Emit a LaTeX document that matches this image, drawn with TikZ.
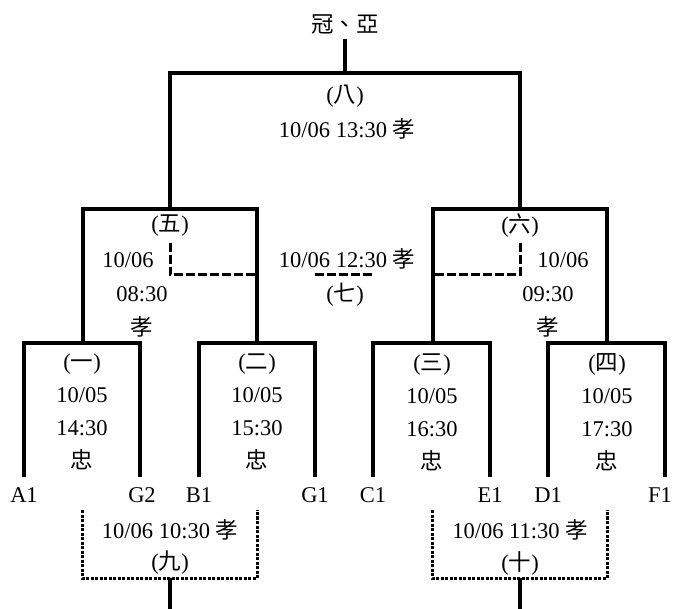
\documentclass[tikz,border=0pt]{standalone}
\usepackage{fontspec}
\setmainfont{Liberation Serif}
\newfontfamily\cjk{Noto Sans CJK TC}
\usetikzlibrary{positioning}
\newcommand{\zh}[1]{{\cjk #1}}
\newcommand{\gamefont}{\fontsize{22.5}{33}\selectfont}

\begin{document}
\begin{tikzpicture}[x=1pt,y=-1pt,
    every node/.style={font=\gamefont,inner sep=0pt},
    game/.style={align=center},
    main line/.style={line width=3.5pt},
    third line/.style={line width=3pt,dash pattern=on 9pt off 3pt},
    dot line/.style={line width=3pt,dash pattern=on 3pt off 1.5pt}]
    \useasboundingbox (0,0) rectangle (675,609);

    % Define games
    \node (final) at (345,25) {\zh{冠、亞}};
    \node (g8) at (345,96) {(\zh{八})};
    \node (t8) at (347,129) {10/06 13:30 \zh{孝}};

    \node (g5) at (170,226) {(\zh{五})};
    \node (d5) at (128,260) {10/06};
    \node (h5) at (142,294) {08:30};
    \node (p5) at (142,327) {\zh{孝}};
    \node (g6) at (520,226) {(\zh{六})};
    \node (d6) at (563,260) {10/06};
    \node (h6) at (548,294) {09:30};
    \node (p6) at (548,327) {\zh{孝}};
    \node (t7) at (347,259) {10/06 12:30 \zh{孝}};
    \node (g7) at (345,295) {(\zh{七})};

    \node[game] (g1) at (82,412) {(\zh{一})\\10/05\\14:30\\\zh{忠}};
    \node[game] (g2) at (257,412) {(\zh{二})\\10/05\\15:30\\\zh{忠}};
    \node[game] (g3) at (432,412) {(\zh{三})\\10/05\\16:30\\\zh{忠}};
    \node[game] (g4) at (607,412) {(\zh{四})\\10/05\\17:30\\\zh{忠}};

    \node (t9) at (170,530) {10/06 10:30 \zh{孝}};
    \node (g9) at (170,563) {(\zh{九})};
    \node (t10) at (520,530) {10/06 11:30 \zh{孝}};
    \node (g10) at (520,563) {(\zh{十})};

    % Define teams
    \node (A1) at (24,495) {A1};
    \node (G2) at (142,495) {G2};
    \node (B1) at (199,495) {B1};
    \node (G1) at (315,495) {G1};
    \node (C1) at (373,495) {C1};
    \node (E1) at (490,495) {E1};
    \node (D1) at (548,495) {D1};
    \node (F1) at (660,495) {F1};

    % Bracket points
    \coordinate (a1) at (24,477);
    \coordinate (g2) at (140,477);
    \coordinate (b1) at (199,477);
    \coordinate (g1) at (315,477);
    \coordinate (c1) at (373,477);
    \coordinate (e1) at (490,477);
    \coordinate (d1) at (548,477);
    \coordinate (f1) at (665,477);
    \coordinate (m1) at (83,343);
    \coordinate (m2) at (257,343);
    \coordinate (m3) at (433,343);
    \coordinate (m4) at (607,343);
    \coordinate (m5) at (170,209);
    \coordinate (m6) at (520,209);
    \coordinate (m8) at (345,73);
    \coordinate (l5) at (170,243);
    \coordinate (k5) at (257,275);
    \coordinate (l6) at (520,243);
    \coordinate (k6) at (433,275);
    \coordinate (k7a) at (315,275);
    \coordinate (k7b) at (373,275);
    \coordinate (q1) at (82,510);
    \coordinate (q2) at (257,510);
    \coordinate (n9) at (170,578);
    \coordinate (s9) at (170,609);
    \coordinate (q3) at (432,510);
    \coordinate (q4) at (607,510);
    \coordinate (n10) at (520,578);
    \coordinate (s10) at (520,609);

    % Draw brackets
    \draw[main line] (a1) |- (m1) -| (g2);
    \draw[main line] (b1) |- (m2) -| (g1);
    \draw[main line] (c1) |- (m3) -| (e1);
    \draw[main line] (d1) |- (m4) -| (f1);
    \draw[main line] (m1) |- (m5) -| (m2);
    \draw[main line] (m3) |- (m6) -| (m4);
    \draw[main line] (m5) |- (m8) -| (m6);
    \draw[main line,shorten >=4pt] (m8) -- (final);

    % Third place
    \draw[third line] (l5) |- (k5);
    \draw[third line] (l6) |- (k6);
    \draw[third line] (k7a) -- (k7b);

    % Placing games
    \draw[dot line] (q1) |- (n9) -| (q2);
    \draw[main line] (n9) -- (s9);
    \draw[dot line] (q3) |- (n10) -| (q4);
    \draw[main line] (n10) -- (s10);

\end{tikzpicture}
\end{document}
